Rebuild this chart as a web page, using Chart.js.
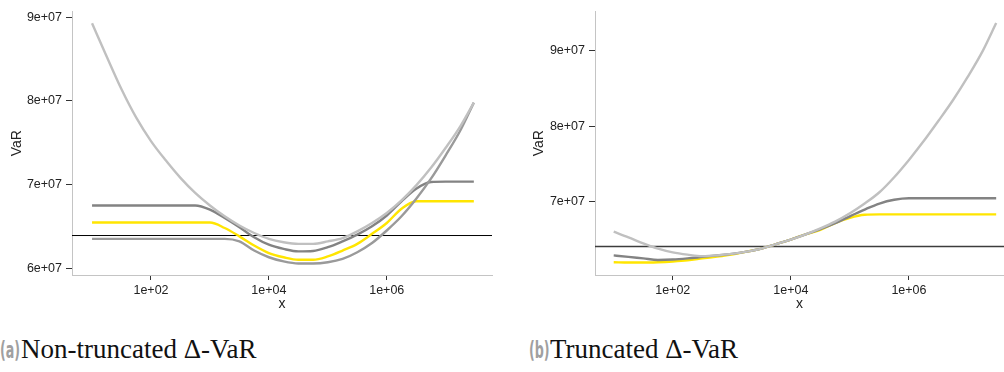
<!DOCTYPE html>
<html>
<head>
<meta charset="utf-8">
<script src="https://cdn.jsdelivr.net/npm/chart.js@4/dist/chart.umd.min.js"></script>
<style>
  html, body { margin: 0; padding: 0; background: #fff; }
  body { width: 1004px; height: 372px; position: relative; overflow: hidden; }
  canvas { position: absolute; top: 0; }
  #c1 { left: 0; }
  #c2 { left: 500px; }
  .cap { position: absolute; top: 336px; line-height: 26px; white-space: nowrap; font-family: "Liberation Serif", serif; font-size: 27px; color: #111; }
  .cap .lab { display: inline-block; font-family: "DejaVu Sans", sans-serif; font-weight: bold; color: #a0a0a0; font-size: 23px; transform: scaleX(0.55); transform-origin: 0 50%; width: 21px; }
</style>
</head>
<body>
<canvas id="c1" width="500" height="320"></canvas>
<canvas id="c2" width="504" height="320"></canvas>
<div class="cap" style="left:0px"><span class="lab">(a)</span>Non-truncated Δ-VaR</div>
<div class="cap" style="left:529px"><span class="lab">(b)</span>Truncated Δ-VaR</div>
<script>
// x positions (log scale)
const xs = [10, 17.78, 31.62, 56.23, 100, 177.8, 316.2, 562.3, 1000, 1778, 3162, 5623,
            1e4, 17783, 31623, 56234, 1e5, 177828, 316228, 562341, 1e6, 1778279, 3162278,
            5623413, 1e7, 17782794, 3e7];

// Panel (a): non-truncated
const aLight  = [8.93e7, 8.53e7, 8.14e7, 7.80e7, 7.52e7, 7.29e7, 7.08e7, 6.90e7, 6.75e7, 6.62e7, 6.51e7, 6.42e7,
                 6.35e7, 6.31e7, 6.29e7, 6.29e7, 6.32e7, 6.36e7, 6.44e7, 6.54e7, 6.66e7, 6.81e7, 6.99e7,
                 7.20e7, 7.44e7, 7.70e7, 7.98e7];
const aMedium = [6.35e7, 6.35e7, 6.35e7, 6.35e7, 6.35e7, 6.35e7, 6.35e7, 6.35e7, 6.35e7, 6.35e7, 6.32e7, 6.21e7,
                 6.13e7, 6.08e7, 6.055e7, 6.055e7, 6.07e7, 6.11e7, 6.19e7, 6.30e7, 6.45e7, 6.62e7, 6.83e7,
                 7.07e7, 7.35e7, 7.65e7, 7.98e7];
const aDark   = [6.75e7, 6.75e7, 6.75e7, 6.75e7, 6.75e7, 6.75e7, 6.75e7, 6.75e7, 6.70e7, 6.60e7, 6.49e7, 6.37e7,
                 6.28e7, 6.23e7, 6.20e7, 6.205e7, 6.25e7, 6.32e7, 6.40e7, 6.50e7, 6.63e7, 6.80e7, 6.95e7,
                 7.03e7, 7.035e7, 7.035e7, 7.035e7];
const aYellow = [6.545e7, 6.545e7, 6.545e7, 6.545e7, 6.545e7, 6.545e7, 6.545e7, 6.545e7, 6.545e7, 6.48e7, 6.38e7, 6.27e7,
                 6.18e7, 6.13e7, 6.10e7, 6.10e7, 6.14e7, 6.21e7, 6.29e7, 6.41e7, 6.54e7, 6.71e7, 6.80e7,
                 6.80e7, 6.80e7, 6.80e7, 6.80e7];
const aRef = 6.39e7;

// Panel (b): truncated
const bLight  = [6.595e7, 6.52e7, 6.44e7, 6.37e7, 6.32e7, 6.29e7, 6.27e7, 6.28e7, 6.30e7, 6.33e7, 6.37e7, 6.43e7,
                 6.49e7, 6.56e7, 6.64e7, 6.73e7, 6.84e7, 6.97e7, 7.12e7, 7.32e7, 7.55e7, 7.80e7, 8.07e7,
                 8.35e7, 8.66e7, 9.00e7, 9.37e7];
const bDark   = [6.28e7, 6.26e7, 6.24e7, 6.22e7, 6.225e7, 6.24e7, 6.26e7, 6.28e7, 6.30e7, 6.33e7, 6.37e7, 6.43e7,
                 6.49e7, 6.56e7, 6.63e7, 6.71e7, 6.80e7, 6.89e7, 6.97e7, 7.02e7, 7.04e7, 7.04e7, 7.04e7,
                 7.04e7, 7.04e7, 7.04e7, 7.04e7];
const bYellow = [6.19e7, 6.185e7, 6.185e7, 6.19e7, 6.20e7, 6.215e7, 6.24e7, 6.265e7, 6.29e7, 6.33e7, 6.37e7, 6.43e7,
                 6.49e7, 6.56e7, 6.62e7, 6.71e7, 6.78e7, 6.82e7, 6.825e7, 6.825e7, 6.825e7, 6.825e7, 6.825e7,
                 6.825e7, 6.825e7, 6.825e7, 6.825e7];
const bRef = 6.40e7;

const xTicks = [1e2, 1e4, 1e6];
const aYTicks = [6e7, 7e7, 8e7, 9e7];
const bYTicks = [7e7, 8e7, 9e7];

const COL = { light: '#c0c0c0', medium: '#9a9a9a', dark: '#838383', yellow: '#ffe500' };

function fmt(v) {
  return Number(v).toExponential(0).replace(/e([+-])(\d)$/, 'e$10$2');
}
function pts(ys) { return ys.map((y, i) => ({ x: xs[i], y })); }
function series(ys, color) {
  return { data: pts(ys), borderColor: color, borderWidth: 2.4, pointRadius: 0,
           cubicInterpolationMode: 'monotone', fill: false };
}

function makeChart(id, o) {
  const ref = { data: [{ x: o.xMin, y: o.ref }, { x: o.xMax, y: o.ref }],
                borderColor: o.refColor, borderWidth: o.refWidth, pointRadius: 0, fill: false };
  const font = { family: 'Liberation Sans, Arial, sans-serif', size: 12.5 };
  return new Chart(document.getElementById(id), {
    type: 'line',
    data: { datasets: o.sets.concat([ref]) },
    options: {
      responsive: false, animation: false,
      layout: { padding: { top: 7, right: o.padRight, left: 0, bottom: 0 } },
      plugins: { legend: { display: false }, tooltip: { enabled: false } },
      scales: {
        x: {
          type: 'logarithmic', min: o.xMin, max: o.xMax,
          afterBuildTicks: s => { s.ticks = xTicks.map(v => ({ value: v })); },
          afterFit: s => { s.height = 45; },
          grid: { drawOnChartArea: false, drawTicks: true, tickLength: 5, color: '#333', lineWidth: 1 },
          border: { color: '#c4c4c4', width: 1 },
          ticks: { callback: v => fmt(v), color: '#222', padding: 3, maxRotation: 0, autoSkip: false, font },
          title: { display: true, text: 'x', color: '#222', padding: { top: 0, bottom: 7 },
                   font: { family: 'Liberation Sans, Arial, sans-serif', size: 14 } }
        },
        y: {
          type: 'linear', min: o.yMin, max: o.yMax,
          afterBuildTicks: s => { s.ticks = o.yTicks.map(v => ({ value: v })); },
          afterFit: s => { s.width = o.yWidth; },
          grid: { drawOnChartArea: false, drawTicks: true, tickLength: 6, color: '#333', lineWidth: 1 },
          border: { color: '#c4c4c4', width: 1 },
          ticks: { callback: v => fmt(v), color: '#222', padding: 4, autoSkip: false, font },
          title: { display: true, text: 'VaR', color: '#222', padding: { top: o.titlePad, bottom: 0 },
                   font: { family: 'Liberation Sans, Arial, sans-serif', size: 14 } }
        }
      }
    }
  });
}

makeChart('c1', {
  sets: [series(aLight, COL.light), series(aMedium, COL.medium), series(aDark, COL.dark), series(aYellow, COL.yellow)],
  ref: aRef, refColor: '#000', refWidth: 1,
  xMin: 4.57, xMax: 6.1e7, yMin: 5.9176e7, yMax: 9.0706e7, yTicks: aYTicks,
  yWidth: 72, padRight: 8, titlePad: 9
});
makeChart('c2', {
  sets: [series(bLight, COL.light), series(bDark, COL.dark), series(bYellow, COL.yellow)],
  ref: bRef, refColor: '#3c3c3c', refWidth: 1.5,
  xMin: 4.82, xMax: 4.07e7, yMin: 6.0196e7, yMax: 9.523e7, yTicks: bYTicks,
  yWidth: 95, padRight: 0, titlePad: 31
});
</script>
</body>
</html>
